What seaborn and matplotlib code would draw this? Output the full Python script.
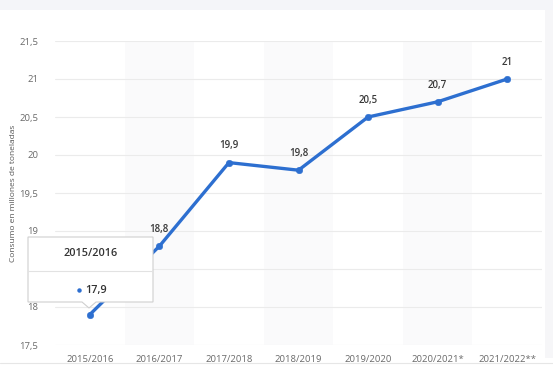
import matplotlib
matplotlib.use("Agg")
import matplotlib.pyplot as plt
import seaborn as sns
import pandas as pd
from matplotlib.patches import Polygon, Rectangle
from matplotlib.lines import Line2D

seasons = ["2015/2016", "2016/2017", "2017/2018", "2018/2019",
           "2019/2020", "2020/2021*", "2021/2022**"]
consumption = [17.9, 18.8, 19.9, 19.8, 20.5, 20.7, 21.0]
value_labels = ["17,9", "18,8", "19,9", "19,8", "20,5", "20,7", "21"]
y_ticks = [17.5, 18, 18.5, 19, 19.5, 20, 20.5, 21, 21.5]
y_tick_labels = ["17,5", "18", "", "19", "19,5", "20", "20,5", "21", "21,5"]
y_title = "Consumo en millones de toneladas"

BLUE = "#2d6fd0"
W, H = 553, 368

sns.set_style("white")
plt.rcParams["font.family"] = ["Open Sans", "DejaVu Sans"]

df = pd.DataFrame({"season": seasons, "value": consumption})
df["pos"] = range(len(df))

fig = plt.figure(figsize=(W / 100, H / 100), dpi=100)
ax = fig.add_axes([55 / W, 1 - 345 / H, (542 - 55) / W, (345 - 41) / H])

# alternating column bands
for i in range(1, len(seasons), 2):
    ax.axvspan(i - 0.5, i + 0.5, color="#fafafb", zorder=0, lw=0)

for t in y_ticks:
    ax.axhline(t, color="#ebebeb", lw=0.8, zorder=1)

sns.lineplot(data=df, x="pos", y="value", ax=ax, color=BLUE, lw=2.4,
             zorder=3, legend=False)
sns.scatterplot(data=df, x="pos", y="value", ax=ax, color=BLUE, s=22,
                edgecolor=BLUE, zorder=4, legend=False)

# first point's label is shown in the tooltip instead
for i, (v, lab) in enumerate(zip(consumption, value_labels)):
    if i == 0:
        continue
    ax.annotate(lab, (i, v), xytext=(0, 8), textcoords="offset points",
                ha="center", va="bottom", fontsize=7, color="#3a3a3a",
                fontweight="semibold", zorder=5)

ax.set_xlim(-0.5, len(seasons) - 0.5)
ax.set_ylim(17.5, 21.5)
ax.set_xticks(range(len(seasons)))
ax.set_xticklabels(seasons)
ax.set_yticks(y_ticks)
ax.set_yticklabels(y_tick_labels)
ax.tick_params(axis="both", length=0, labelsize=6.8, labelcolor="#6a6a6a")
ax.tick_params(axis="x", pad=7)
ax.tick_params(axis="y", pad=12)
ax.set_xlabel("")
ax.set_ylabel(y_title, fontsize=6, color="#555555")
ax.yaxis.set_label_coords(-0.078, 0.5)
for s in ax.spines.values():
    s.set_visible(False)

# page decorations
fig.patches.append(Rectangle((0, 1 - 10 / H), 1, 10 / H, transform=fig.transFigure,
                             color="#f4f5f9", lw=0, zorder=0))
fig.patches.append(Rectangle((545 / W, 10 / H), 8 / W, 1 - 20 / H, transform=fig.transFigure,
                             color="#f6f6f8", lw=0, zorder=0))
fig.lines.append(Line2D([0, 1], [1 - 363 / H] * 2, transform=fig.transFigure,
                        color="#e6e6e6", lw=0.8))


# tooltip for first point
def fx(px):
    return px / W


def fy(py):
    return 1 - py / H


box = [(28, 237), (153, 237), (153, 302), (96, 302), (89, 308), (82, 302), (28, 302)]
tip = Polygon([(fx(x), fy(y)) for x, y in box], closed=True, transform=fig.transFigure,
              facecolor="white", edgecolor="#cfcfcf", lw=0.8, zorder=10)
fig.patches.append(tip)
fig.lines.append(Line2D([fx(28), fx(153)], [fy(271)] * 2, transform=fig.transFigure,
                        color="#e2e2e2", lw=0.8, zorder=11))
fig.text(fx(90.5), fy(254), seasons[0], ha="center", va="center", fontsize=7.8,
         fontweight="semibold", color="#333333", zorder=12)
fig.lines.append(Line2D([fx(79)], [fy(290)], transform=fig.transFigure, marker="o",
                        markersize=2.2, color=BLUE, lw=0, zorder=12))
fig.text(fx(85), fy(290), value_labels[0], ha="left", va="center", fontsize=7.8,
         fontweight="semibold", color="#333333", zorder=12)

fig.savefig("out.png", dpi=100)
